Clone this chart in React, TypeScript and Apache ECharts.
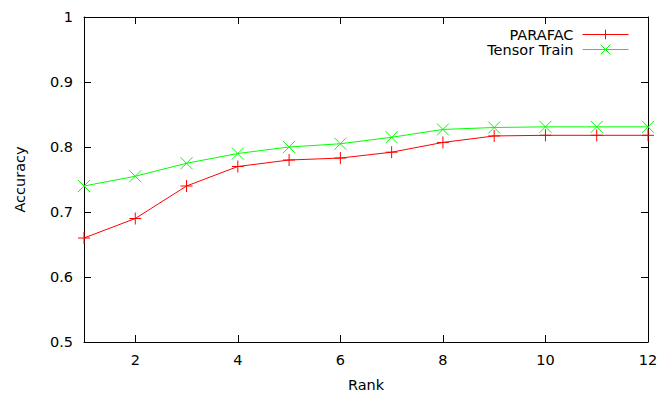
import React, { useEffect, useRef } from "react";
import * as echarts from "echarts";

const ranks = [1, 2, 3, 4, 5, 6, 7, 8, 9, 10, 11, 12];
const parafac = [0.66, 0.69, 0.74, 0.77, 0.78, 0.783, 0.792, 0.807, 0.817, 0.818, 0.818, 0.818];
const tensorTrain = [0.74, 0.755, 0.775, 0.79, 0.8, 0.805, 0.815, 0.827, 0.83, 0.831, 0.831, 0.831];
const xTicks = [2, 4, 6, 8, 10, 12];
const yTicks = [0.5, 0.6, 0.7, 0.8, 0.9, 1];

const FONT = "DejaVu Sans";
const PLUS = "path://M0,6L12,6M6,0L6,12";
const CROSS = "path://M0,0L12,12M12,0L0,12";

export default function App() {
  const ref = useRef<HTMLDivElement>(null);
  useEffect(() => {
    if (!ref.current) return;
    const chart = echarts.init(ref.current, null, { renderer: "svg" });
    const axisLine = { show: true, lineStyle: { color: "#000", width: 1 } };
    const tick = { show: true, inside: true, length: 7, lineStyle: { color: "#000", width: 1 } };
    const label = { fontFamily: FONT, fontSize: 14.5, color: "#000" };
    chart.setOption({
      animation: false,
      backgroundColor: "#fff",
      grid: { left: 84, right: 13, top: 17, bottom: 51, containLabel: false },
      legend: {
        right: 27,
        top: 22,
        orient: "vertical",
        align: "right",
        itemWidth: 46,
        itemHeight: 12,
        itemGap: 0,
        itemStyle: { borderWidth: 1 },
        lineStyle: { width: 1 },
        textStyle: { fontFamily: FONT, fontSize: 14.5, color: "#000", padding: [0, 4, 0, 0] },
        data: ["PARAFAC", "Tensor Train"],
      },
      xAxis: [
        {
          type: "value",
          min: 1,
          max: 12,
          position: "bottom",
          axisLine,
          axisTick: { ...tick, customValues: xTicks },
          axisLabel: { ...label, margin: 10, customValues: xTicks },
          splitLine: { show: false },
          name: "Rank",
          nameLocation: "middle",
          nameGap: 35,
          nameTextStyle: { fontFamily: FONT, fontSize: 14.5, color: "#000" },
        },
        {
          type: "value",
          min: 1,
          max: 12,
          position: "top",
          axisLine,
          axisTick: { ...tick, customValues: xTicks },
          axisLabel: { show: false, customValues: xTicks },
          splitLine: { show: false },
        },
      ],
      yAxis: [
        {
          type: "value",
          min: 0.5,
          max: 1,
          position: "left",
          axisLine,
          axisTick: { ...tick, customValues: yTicks },
          axisLabel: {
            ...label,
            margin: 11,
            customValues: yTicks,
            formatter: (v: number) => String(Math.round(v * 10) / 10),
          },
          splitLine: { show: false },
          name: "Accuracy",
          nameLocation: "middle",
          nameGap: 57,
          nameTextStyle: { fontFamily: FONT, fontSize: 14.5, color: "#000" },
        },
        {
          type: "value",
          min: 0.5,
          max: 1,
          position: "right",
          axisLine,
          axisTick: { ...tick, customValues: yTicks },
          axisLabel: { show: false, customValues: yTicks },
          splitLine: { show: false },
        },
      ],
      series: [
        {
          name: "PARAFAC",
          type: "line",
          xAxisIndex: 0,
          yAxisIndex: 0,
          data: ranks.map((r, i) => [r, parafac[i]]),
          symbol: PLUS,
          symbolSize: 12,
          showSymbol: true,
          lineStyle: { color: "#ff0000", width: 1 },
          itemStyle: { color: "#ff0000", borderColor: "#ff0000", borderWidth: 1 },
        },
        {
          name: "Tensor Train",
          type: "line",
          xAxisIndex: 0,
          yAxisIndex: 0,
          data: ranks.map((r, i) => [r, tensorTrain[i]]),
          symbol: CROSS,
          symbolSize: 12,
          showSymbol: true,
          lineStyle: { color: "#00ff00", width: 1 },
          itemStyle: { color: "#00ff00", borderColor: "#00ff00", borderWidth: 1 },
        },
      ],
    });
    return () => chart.dispose();
  }, []);
  return <div ref={ref} style={{ width: 661, height: 397, position: "absolute", left: 0, top: 0 }} />;
}
